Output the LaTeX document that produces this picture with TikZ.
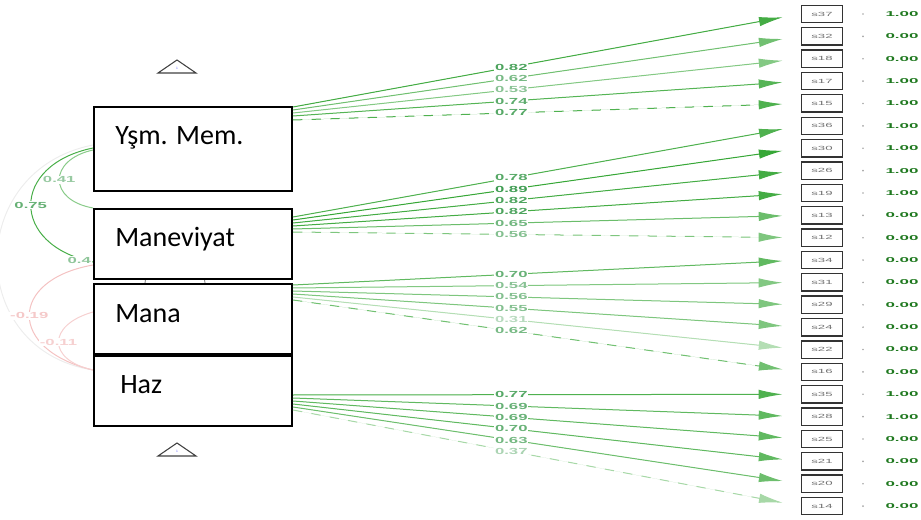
\documentclass[tikz,border=0pt]{standalone}
\usepackage{fontspec}
\setmainfont{Carlito}
\newfontfamily\numfont{Liberation Sans}
\usetikzlibrary{arrows.meta,positioning}

\definecolor{semgreen}{RGB}{40,160,40}
\definecolor{labgreen}{RGB}{50,150,70}
\definecolor{semred}{RGB}{230,120,120}
\definecolor{valgreen}{RGB}{30,120,30}

\newcommand{\wide}[2][1.9]{\scalebox{#1}[1]{#2}}

\begin{document}
\begin{tikzpicture}[
        x=0.75pt, y=-0.75pt,
        latent/.style={draw=black, line width=1.5pt, fill=white, anchor=north west,
            inner sep=0pt, minimum width=148.5pt, minimum height=52.5pt},
        lattext/.style={anchor=base west, inner sep=0pt, font=\fontsize{21}{25}\selectfont},
        indbox/.style={draw=black!80, line width=1pt, fill=white, inner sep=0pt,
            minimum width=31pt, minimum height=13pt, text=black!55,
            font=\numfont\fontsize{4.5}{5}\selectfont},
        resdot/.style={circle, fill=black!35, inner sep=0pt, minimum size=1.4pt},
        resval/.style={inner sep=0pt, text=valgreen, font=\numfont\bfseries\fontsize{5.3}{6}\selectfont},
        loadline/.style={line width=0.75pt, shorten >=13.5pt, -{Latex[length=18pt,width=7pt]}},
        longdash/.style={dash pattern=on 7pt off 7pt},
        loadlabel/.style={pos=0.43, fill=white, inner sep=0.6pt,
            font=\numfont\bfseries\fontsize{6.6}{7}\selectfont},
        covline/.style={line width=0.75pt},
        covlabel/.style={midway, fill=white, inner sep=0.6pt,
            font=\numfont\bfseries\fontsize{6.6}{7}\selectfont}
    ]
    \useasboundingbox (0,0) rectangle (921,520);

    \coordinate (ysmin) at (93,106);
    \coordinate (manin) at (93,208);
    \coordinate (manain) at (93,283);
    \coordinate (hazin) at (93,355);

    \draw[covline, black!7] ([yshift=-29.25pt]ysmin) .. controls (-35,170) and (-35,350) .. ([yshift=-11.25pt]hazin);
    \draw[covline, semgreen!55] ([yshift=-33pt]ysmin) .. controls (48,160) and (48,200) .. (manin)
        node[covlabel, text=labgreen!50] (c41) {\wide{0.41}};
    \draw[covline, semgreen!85] ([yshift=-31.5pt]ysmin) .. controls (10,165) and (10,245) .. ([yshift=-40.5pt]manin)
        node[covlabel, text=labgreen!75] (c75) {\wide{0.75}};
    \draw[covline, semred!45] ([yshift=-42.75pt]manin) .. controls (8,280) and (8,350) .. ([yshift=-11.25pt]hazin)
        node[covlabel, text=semred!40] (c19) {\wide{-0.19}};
    \draw[covline, semred!35] ([yshift=-21.75pt]manain) .. controls (47,325) and (47,360) .. ([yshift=-11.25pt]hazin)
        node[covlabel, text=semred!35] (c11) {\wide{-0.11}};
    \draw[line width=0.6pt, black!55] ([xshift=39pt]manain) .. controls (150,232) and (200,232) .. ([xshift=84pt]manain);

    \node[latent, minimum height=63pt] (ysm) at (ysmin) {};
    \node[anchor=east, inner sep=0.6pt, fill=white, text=labgreen!55,
        font=\numfont\bfseries\fontsize{6.6}{7}\selectfont] (c4) at (92,260) {\wide{0.4}};
    \node[latent] (man) at (manin) {};
    \node[latent] (mana) at (manain) {};
    \node[latent] (haz) at (hazin) {};

    \node[lattext] (ysmt) at (115,145) {Yşm. Mem.};
    \node[lattext] (mant) at (115,247) {Maneviyat};
    \node[lattext] (manat) at (115,322) {Mana};
    \node[lattext] (hazt) at (120,393) {Haz};

    \draw[black!75, line width=0.8pt] (158,73) -- (177,60) -- (196,73) -- cycle;
    \node[inner sep=0pt, text=blue!60, font=\numfont\fontsize{2.5}{3}\selectfont] (int1) at (177,68) {1};
    \draw[black!75, line width=0.8pt] (158,456) -- (177,443) -- (196,456) -- cycle;
    \node[inner sep=0pt, text=blue!60, font=\numfont\fontsize{2.5}{3}\selectfont] (int2) at (177,451) {1};

    \foreach \s/\v [count=\i from 0] in {37/1.00, 32/0.00, 18/0.00, 17/1.00, 15/1.00,
            36/1.00, 30/1.00, 26/1.00, 19/1.00, 13/0.00, 12/0.00,
            34/0.00, 31/0.00, 29/0.00, 24/0.00, 22/0.00, 16/0.00,
            35/1.00, 28/1.00, 25/0.00, 21/0.00, 20/0.00, 14/0.00} {
        \node[indbox] (s\s) at ({822},{14+22.37*\i}) {\wide[2.2]{s\s}};
        \node[resdot] (r\s) at ({863},{14+22.37*\i}) {};
        \node[resval] (v\s) at ({902},{14+22.37*\i}) {\wide[2.4]{\v}};
    }

    \foreach \f/\o/\t/\v/\d in {
            ysm/1/37/0.82/solid, ysm/4/32/0.62/solid, ysm/7/18/0.53/solid, ysm/10/17/0.74/solid, ysm/14/15/0.77/longdash,
            man/9/36/0.78/solid, man/12/30/0.89/solid, man/15/26/0.82/solid, man/18/19/0.82/solid, man/21/13/0.65/solid, man/24/12/0.56/longdash,
            mana/2/34/0.70/solid, mana/5/31/0.54/solid, mana/8/29/0.56/solid, mana/11/24/0.55/solid, mana/14/22/0.31/solid, mana/17/16/0.62/longdash,
            haz/40/35/0.77/solid, haz/43/28/0.69/solid, haz/46/25/0.69/solid, haz/49/21/0.70/solid, haz/52/20/0.63/solid, haz/55/14/0.37/longdash} {
        \pgfmathtruncatemacro{\c}{100*\v+5}
        \draw[loadline, draw=semgreen!\c, fill=semgreen!\c, \d]
            ([yshift={-0.75pt*\o}]\f.north east) -- node[loadlabel, text=labgreen!\c] {\wide{\v}} (s\t.west);
    }
\end{tikzpicture}
\end{document}
